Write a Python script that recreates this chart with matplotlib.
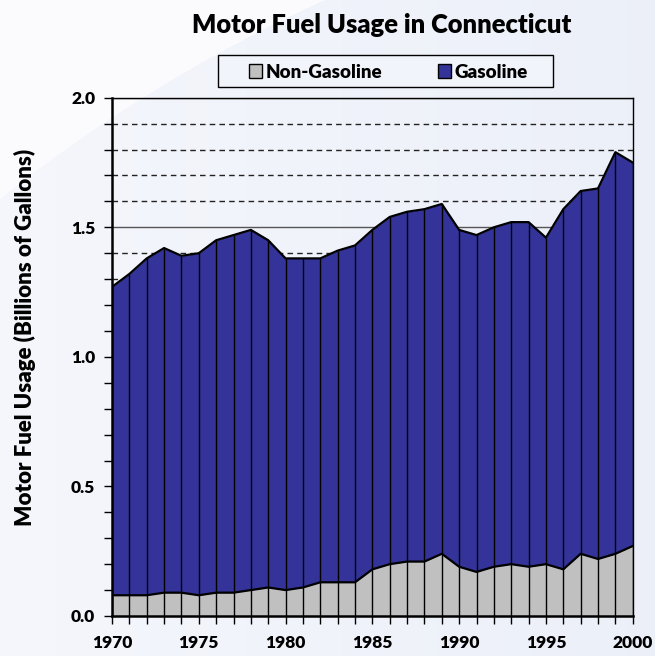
import numpy as np
import matplotlib
matplotlib.use("Agg")
import matplotlib.pyplot as plt
from matplotlib import ticker as mticker
from matplotlib.patches import Patch, Rectangle

plt.rcParams['font.family'] = ['Lato', 'DejaVu Sans']
plt.rcParams['font.weight'] = 'heavy'
W = 'heavy'

years = list(range(1970, 2001))
# top of the stack (total usage), billions of gallons
total = [1.27, 1.32, 1.38, 1.42, 1.39, 1.40, 1.45, 1.47, 1.49, 1.45,
         1.38, 1.38, 1.38, 1.41, 1.43, 1.49, 1.54, 1.56, 1.57, 1.59,
         1.49, 1.47, 1.50, 1.52, 1.52, 1.46, 1.57, 1.64, 1.65, 1.79,
         1.75]
non_gasoline = [0.08, 0.08, 0.08, 0.09, 0.09, 0.08, 0.09, 0.09, 0.10, 0.11,
                0.10, 0.11, 0.13, 0.13, 0.13, 0.18, 0.20, 0.21, 0.21, 0.24,
                0.19, 0.17, 0.19, 0.20, 0.19, 0.20, 0.18, 0.24, 0.22, 0.24,
                0.27]
xtick_years = [1970, 1975, 1980, 1985, 1990, 1995, 2000]

gas_color = '#333399'
nongas_color = '#C0C0C0'

fig = plt.figure(figsize=(6.55, 6.56), dpi=100)

# background: soft horizontal gradient with a pale corner arc
bg = fig.add_axes([0, 0, 1, 1], zorder=-10)
h, w = 656, 655
yy, xx = np.mgrid[0:h, 0:w]
t = xx / w
left_c = np.array([0.960, 0.967, 0.988])
right_c = np.array([0.925, 0.940, 0.975])
img = left_c[None, None, :] * (1 - t[..., None]) + right_c[None, None, :] * t[..., None]
outside = (xx - 968) ** 2 + (yy - 1415) ** 2 > 1555 ** 2
img[outside] = [0.985, 0.988, 0.997]
bg.imshow(img, aspect='auto', extent=[0, 1, 0, 1], origin='upper')
bg.axis('off')

ax = fig.add_axes([0.171, 0.061, 0.795, 0.790])
ax.set_facecolor('none')

ax.fill_between(years, 0, non_gasoline, color=nongas_color, lw=0, zorder=2)
ax.fill_between(years, non_gasoline, total, color=gas_color, lw=0, zorder=2)
ax.vlines(years, 0, total, colors='black', lw=1.0, zorder=3)
ax.plot(years, total, color='black', lw=1.6, zorder=4)
ax.plot(years, non_gasoline, color='black', lw=1.6, zorder=4)

ax.set_xlim(1970, 2000)
ax.set_ylim(0, 2.0)

ax.yaxis.set_major_locator(mticker.MultipleLocator(0.5))
ax.yaxis.set_minor_locator(mticker.MultipleLocator(0.1))
ax.yaxis.set_major_formatter(mticker.FormatStrFormatter('%.1f'))
ax.set_xticks(years, minor=True)
ax.set_xticks(xtick_years)
ax.set_xticklabels([str(y) for y in xtick_years])

ax.grid(True, which='major', axis='y', color='#555555', lw=1.0, zorder=0)
ax.grid(True, which='minor', axis='y', color='#222222', lw=1.0,
        linestyle=(0, (4, 3)), zorder=0)
ax.set_axisbelow(True)

ax.tick_params(axis='both', which='both', direction='out', length=6, width=1.0,
               colors='black', labelsize=12.5)
ax.tick_params(axis='x', which='major', pad=8)
ax.tick_params(axis='y', which='major', pad=6)
for lab in ax.get_xticklabels() + ax.get_yticklabels():
    lab.set_fontweight(W)

for side in ['top', 'right']:
    ax.spines[side].set_linewidth(1.0)
for side in ['left', 'bottom']:
    ax.spines[side].set_linewidth(1.8)

ax.set_ylabel('Motor Fuel Usage (Billions of Gallons)', fontsize=16,
              fontweight=W)
ax.yaxis.set_label_coords(-0.145, 0.538)

fig.text(0.582, 0.9616, 'Motor Fuel Usage in Connecticut', ha='center', va='center',
         fontsize=18.4, fontweight=W)

# legend frame
fig.patches.append(Rectangle((218 / 655, 1 - 87 / 656), 335 / 655, 32 / 656,
                             transform=fig.transFigure, facecolor='#F2F4FB',
                             edgecolor='black', lw=1.0, zorder=1))
handles = [Patch(facecolor=nongas_color, edgecolor='black', lw=1.0),
           Patch(facecolor=gas_color, edgecolor='black', lw=1.0)]
leg = fig.legend(handles, ['Non-Gasoline', 'Gasoline'], ncol=2,
                 loc='center left', bbox_to_anchor=(249 / 655, 1 - 72 / 656),
                 frameon=False, borderpad=0, borderaxespad=0,
                 prop={'weight': W, 'size': 13.5},
                 handlelength=0.68, handleheight=0.8, handletextpad=0.2,
                 columnspacing=3.0)
leg.set_zorder(5)

fig.savefig('out.png', dpi=100)
